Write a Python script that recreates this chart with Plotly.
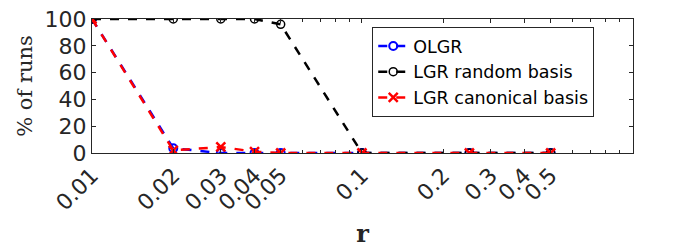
import plotly.graph_objects as go

r_vals = [0.01, 0.02, 0.03, 0.04, 0.05, 0.1, 0.25, 0.5]
olgr = [100, 3.5, 0, 0, 0, 0, 0, 0]
lgr_random = [100, 100, 100, 100, 96, 0, 0, 0]
lgr_canonical = [100, 2, 4.5, 1, 0, 0, 0, 0]

tick_vals = [0.01, 0.02, 0.03, 0.04, 0.05, 0.1, 0.2, 0.3, 0.4, 0.5]
tick_text = ["0.01", "0.02", "0.03", "0.04", "0.05", "0.1", "0.2", "0.3", "0.4", "0.5"]
minor_vals = [0.06, 0.07, 0.08, 0.09, 0.6, 0.7, 0.8, 0.9]
y_ticks = [0, 20, 40, 60, 80, 100]

txt = "#262626"
fig = go.Figure()
fig.add_trace(go.Scatter(x=r_vals, y=olgr, name="OLGR", mode="lines+markers",
                         line=dict(color="#0000ff", width=2.5, dash="dash"),
                         marker=dict(symbol="circle-open", size=8, color="#0000ff", line=dict(width=2))))
fig.add_trace(go.Scatter(x=r_vals, y=lgr_random, name="LGR random basis", mode="lines+markers",
                         line=dict(color="#000000", width=2.5, dash="dash"),
                         marker=dict(symbol="circle-open", size=8, color="#000000", line=dict(width=1.5))))
fig.add_trace(go.Scatter(x=r_vals, y=lgr_canonical, name="LGR canonical basis", mode="lines+markers",
                         line=dict(color="#ff0000", width=2.5, dash="dash"),
                         marker=dict(symbol="x-thin-open", size=9, color="#ff0000", line=dict(width=2.5, color="#ff0000"))))

fig.update_layout(
    width=700, height=250,
    margin=dict(l=92, r=67, t=19, b=97, autoexpand=False),
    plot_bgcolor="white", paper_bgcolor="white",
    font=dict(family="DejaVu Sans", color=txt),
    showlegend=True,
    legend=dict(x=0.518, y=0.94, xanchor="left", yanchor="top",
                bordercolor="#262626", borderwidth=1, bgcolor="white",
                font=dict(size=17.5, color="#000000"), tracegroupgap=0,
                itemwidth=30),
    xaxis=dict(type="log", range=[-2, 0.004], tickvals=tick_vals, ticktext=tick_text,
               tickangle=-45, tickfont=dict(size=22, color=txt), automargin=False,
               ticks="inside", ticklen=4, tickcolor="#262626",
               showline=True, linecolor="#262626", linewidth=1, mirror="ticks",
               showgrid=False, zeroline=False,
               minor=dict(tickvals=minor_vals, ticks="inside", ticklen=3, tickcolor="#262626"),
               title=dict(text="<b>r</b>", font=dict(family="DejaVu Serif", size=24, color=txt), standoff=10)),
    yaxis=dict(range=[0, 100], tickvals=y_ticks, tickfont=dict(size=22, color=txt), automargin=False,
               ticks="inside", ticklen=4, tickcolor="#262626",
               showline=True, linecolor="#262626", linewidth=1, mirror="ticks",
               showgrid=False, zeroline=False, ticklabeloverflow="allow",
               title=dict(text="% of runs", font=dict(family="DejaVu Serif", size=21, color=txt), standoff=6)),
)
fig.write_html("out.html", config={"displayModeBar": False},
               post_script="document.body.style.margin='0';")
